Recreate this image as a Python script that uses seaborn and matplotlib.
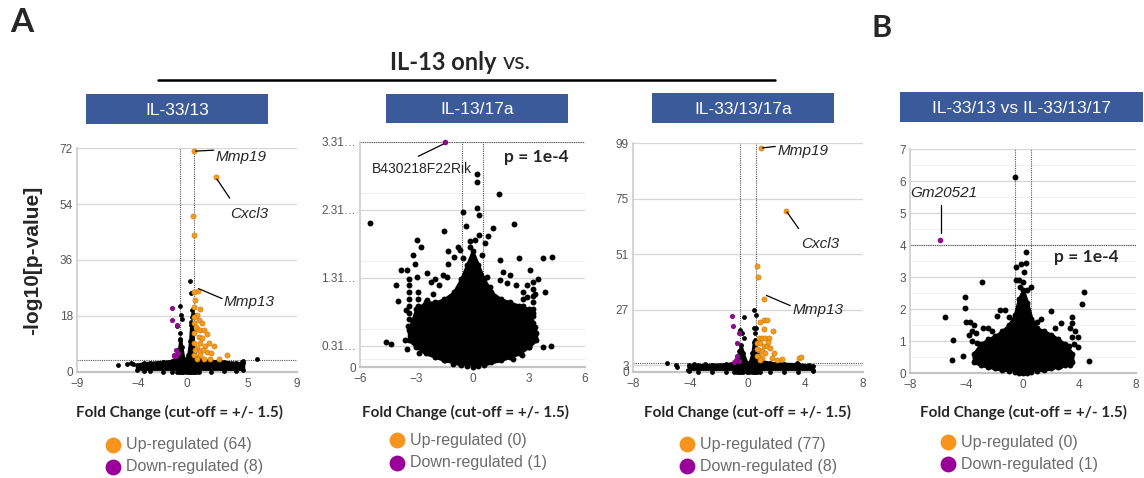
import numpy as np
import pandas as pd
import matplotlib
matplotlib.use("Agg")
import matplotlib.pyplot as plt
from matplotlib.patches import Rectangle
import seaborn as sns

sns.set_theme(style="white")
plt.rcParams["font.family"] = ["Liberation Sans", "DejaVu Sans"]

ORANGE = "#F59A1B"
PURPLE = "#8E0B8E"
BOX_BLUE = "#3B5A99"
CUT = 0.585  # log2(1.5)

# ---------------- IL-33/13 ----------------
p1_up_x = [0.55, 2.35, 0.46, 0.60, 0.87, 0.55, 0.68, 0.55, 1.09, 0.82, 0.55, 0.95, 0.55, 1.23,
           0.82, 1.09, 1.36, 1.64, 0.95, 1.23, 1.77, 1.09, 1.50, 2.24, 0.82, 1.09, 1.64, 0.55,
           1.09, 2.60, 3.27, 0.82, 1.42, 1.90, 0.60, 0.60, 0.68, 0.70, 1.30, 2.00]
p1_up_y = [71.0, 62.7, 50.3, 44.0, 26.1, 25.7, 23.2, 20.9, 20.3, 18.4, 17.7, 16.6, 15.75, 15.75,
           13.8, 13.6, 13.6, 12.3, 11.25, 10.8, 9.3, 9.3, 8.25, 8.25, 7.7, 6.6, 6.3, 5.6,
           5.6, 4.3, 5.6, 4.2, 4.2, 4.2, 12.5, 9.3, 7.2, 14.5, 7.0, 6.0]
p1_dn_x = [-1.23, -1.23, -0.82, -0.87, -1.04, -1.09, -0.87, -0.70]
p1_dn_y = [20.6, 16.6, 15.2, 7.0, 5.6, 5.0, 5.0, 6.2]
p1_bk_x = [0.27, 0.35, -0.55, -0.46, -0.41, -0.82, -0.60, -0.55, 0.41, 0.41, 0.33,
           -5.67, -4.90, -4.60, 5.73, 4.50, 4.60, -4.40, 0.45, 0.40]
p1_bk_y = [29.1, 25.4, 21.1, 18.4, 17.0, 14.7, 10.4, 12.5, 20.0, 17.7, 15.2,
           2.36, 2.7, 2.9, 4.3, 3.1, 3.5, 2.6, 18.5, 13.0]
p1_env_x = [-4.1, -3.5, -3.0, -2.0, -1.2, -0.8, -0.65, -0.55, -0.45, -0.3, -0.1, 0.1, 0.25,
            0.35, 0.45, 0.55, 0.7, 1.0, 2.0, 3.0, 4.0, 4.6]
p1_env_hi = [2.4, 2.9, 3.0, 3.3, 3.6, 4.5, 7.5, 10.5, 8.0, 4.5, 4.0, 5.5, 10.0,
             16.0, 13.0, 6.5, 4.5, 4.0, 3.6, 3.3, 3.0, 2.8]
p1_env_lo = [0.5, 0.3, 0.2, 0.1, 0.0, 0.0, 0.0, 0.0, 0.0, 0.0, 0.0, 0.0, 0.0,
             0.0, 0.0, 0.0, 0.0, 0.0, 0.1, 0.2, 0.3, 0.5]

# ---------------- IL-13/17a ----------------
p2_dn_x = [-1.45]
p2_dn_y = [3.31]
p2_bk_pts = [(-5.47, 2.12), (-4.6, 0.37), (-4.33, 0.34), (-4.07, 1.2), (-4.0, 0.97), (-3.6, 0.39),
             (-3.47, 0.26), (-2.84, 0.2), (-3.8, 1.43), (-3.5, 1.43), (-3.16, 1.65), (-2.98, 1.87),
             (-2.76, 1.76), (-3.07, 1.52), (-2.98, 1.33), (-3.55, 0.84), (-3.42, 0.61), (-2.45, 1.38),
             (-2.2, 1.25), (-1.52, 2.0), (-1.33, 1.70), (-1.29, 1.52), (-1.0, 1.62), (-0.79, 1.77),
             (-0.67, 1.72), (-0.49, 2.28), (-0.36, 2.07), (-0.13, 1.86), (-0.13, 1.77), (0.13, 1.87),
             (0.35, 1.94), (0.22, 2.84), (0.22, 2.72), (0.22, 2.34), (0.35, 2.24), (1.41, 2.54),
             (1.11, 2.04), (0.84, 1.92), (0.67, 1.83), (2.21, 2.10), (1.47, 1.57), (2.48, 1.6),
             (3.78, 1.61), (4.22, 1.62), (3.07, 1.43), (3.48, 1.29), (3.87, 1.11), (3.33, 1.08),
             (3.03, 0.30), (3.78, 0.30), (4.17, 0.31), (2.62, 0.17), (2.18, 0.12), (2.9, 1.2),
             (2.9, 1.03), (2.9, 0.79), (3.25, 0.79), (3.33, 0.59), (1.47, 1.28), (1.82, 1.23),
             (0.93, 1.18), (0.75, 1.33), (-1.38, 1.33), (-2.09, 1.08), (-2.45, 0.98), (-2.8, 0.79),
             (-2.89, 0.49), (-1.47, 0.1), (-1.02, 0.05), (1.82, 0.2), (-3.4, 1.3), (-3.4, 1.2),
             (-3.4, 1.1), (-3.4, 1.0), (-3.4, 0.9), (-3.4, 0.8), (-3.4, 0.7), (-2.9, 1.1),
             (-2.9, 1.0), (-2.9, 0.9), (-2.9, 0.8), (-2.9, 0.7), (-2.9, 0.6), (3.2, 1.25),
             (3.2, 1.15), (3.2, 1.05), (3.2, 0.95), (3.2, 0.85), (3.2, 0.75), (3.2, 0.65),
             (2.7, 1.1), (2.7, 1.0), (2.7, 0.9), (2.7, 0.8), (2.7, 0.7), (-2.0, 1.3), (-1.8, 1.2),
             (-1.6, 1.35), (2.0, 1.35), (2.3, 1.2), (1.6, 1.4), (-0.5, 1.6), (0.5, 1.65)]
p2_bk_x = [p[0] for p in p2_bk_pts]
p2_bk_y = [p[1] for p in p2_bk_pts]
p2_env_x = [-3.4, -3.0, -2.5, -2.0, -1.5, -1.0, -0.6, -0.3, 0.0, 0.3, 0.6, 1.0, 1.5, 2.0, 2.5, 3.0, 3.4]
p2_env_hi = [0.55, 0.85, 0.95, 0.95, 1.0, 1.1, 1.3, 1.5, 1.7, 1.5, 1.3, 1.1, 1.0, 0.95, 0.9, 0.85, 0.5]
p2_env_lo = [0.4, 0.3, 0.2, 0.15, 0.1, 0.07, 0.03, 0.01, 0.0, 0.01, 0.03, 0.07, 0.1, 0.15, 0.2, 0.3, 0.4]

# ---------------- IL-33/13/17a ----------------
p3_up_x = [0.90, 2.64, 0.63, 0.70, 1.09, 1.09, 1.32, 0.81, 1.09, 1.74, 0.74, 0.97, 1.21, 1.48,
           0.63, 0.86, 1.09, 1.32, 1.55, 0.74, 0.97, 1.21, 1.79, 1.67, 0.74, 0.97, 2.37, 3.52,
           3.69, 2.02, 0.65, 0.65, 0.80, 1.40]
p3_up_y = [96.8, 69.7, 46.0, 41.1, 31.7, 22.6, 22.6, 21.6, 18.7, 17.6, 14.7, 14.7, 14.7, 14.7,
           12.5, 12.5, 11.1, 11.1, 10.4, 9.65, 8.9, 8.2, 8.2, 6.05, 6.8, 6.05, 5.6, 6.05,
           6.3, 5.3, 10.0, 7.0, 5.0, 12.8]
p3_dn_x = [-1.11, -1.04, -0.65, -0.77, -0.77, -0.83, -0.65, -1.0]
p3_dn_y = [24.1, 20.0, 16.9, 12.5, 7.1, 5.3, 4.6, 4.2]
p3_bk_x = [-0.30, 0.44, 0.56, 0.39, 0.56, -0.42, -0.58, -0.30, 0.46,
           -5.63, -5.0, -4.95, -4.13, -4.2, -3.73, -2.97, 4.52, 4.22, 3.4]
p3_bk_y = [23.6, 26.7, 24.5, 19.0, 19.0, 16.9, 18.3, 14.7, 16.9,
           3.9, 2.9, 2.2, 2.9, 1.0, 3.6, 3.6, 1.0, 2.9, 3.9]
p3_env_x = [-4.1, -3.5, -2.5, -1.5, -1.0, -0.75, -0.6, -0.5, -0.35, -0.1, 0.1, 0.3, 0.4, 0.5,
            0.6, 0.8, 1.5, 2.5, 3.5, 4.5]
p3_env_hi = [2.6, 3.0, 3.2, 3.4, 4.0, 5.5, 9.0, 11.5, 8.0, 4.0, 4.0, 8.0, 13.0, 14.0,
             8.0, 5.0, 4.0, 3.6, 3.4, 2.6]
p3_env_lo = [0.4, 0.2, 0.1, 0.0, 0.0, 0.0, 0.0, 0.0, 0.0, 0.0, 0.0, 0.0, 0.0, 0.0,
             0.0, 0.0, 0.0, 0.1, 0.2, 0.4]

# ---------------- IL-33/13 vs IL-33/13/17 ----------------
p4_dn_x = [-5.87]
p4_dn_y = [4.16]
p4_bk_pts = [(-0.56, 6.12), (0.2, 3.77), (-0.51, 3.31), (-0.15, 3.40), (0.2, 3.43), (0.1, 3.17),
             (0.6, 2.70), (-0.51, 2.91), (-2.87, 2.84), (-4.08, 2.39), (-4.13, 2.02), (-5.52, 1.75),
             (-4.98, 1.04), (-5.0, 0.41), (-4.27, 0.52), (-4.03, 1.60), (-3.75, 1.58), (-3.47, 1.51),
             (-3.33, 1.25), (-3.24, 0.94), (-3.33, 0.62), (-2.81, 1.40), (-2.69, 0.83), (-3.04, 0.33),
             (4.29, 2.52), (4.19, 2.15), (4.69, 0.37), (3.89, 1.14), (3.49, 1.75), (3.47, 1.56),
             (3.35, 1.40), (3.47, 1.14), (3.23, 0.83), (3.0, 0.57), (2.63, 0.21), (3.35, 0.26),
             (2.0, 1.95), (2.68, 1.56), (-1.62, 1.98), (-1.26, 1.98), (-1.85, 1.77), (-2.45, 1.4),
             (-0.3, 2.9), (0.0, 2.85), (0.3, 2.6), (-0.2, 2.7), (1.3, 1.7), (1.0, 1.6), (-1.0, 1.75),
             (-2.2, 1.3), (2.3, 1.4), (-3.6, 1.3), (-3.6, 1.0), (-3.8, 1.2), (3.7, 1.3), (3.6, 0.9),
             (3.9, 0.8)]
p4_bk_x = [p[0] for p in p4_bk_pts]
p4_bk_y = [p[1] for p in p4_bk_pts]
p4_env_x = [-3.5, -3.0, -2.5, -2.0, -1.5, -1.0, -0.6, -0.3, 0.0, 0.3, 0.6, 1.0, 1.5, 2.0, 2.5, 3.0, 3.5]
p4_env_hi = [0.6, 0.9, 1.05, 1.15, 1.3, 1.5, 1.8, 2.3, 2.6, 2.2, 1.7, 1.4, 1.3, 1.2, 1.05, 0.9, 0.6]
p4_env_lo = [0.35, 0.25, 0.2, 0.15, 0.1, 0.05, 0.02, 0.0, 0.0, 0.0, 0.02, 0.05, 0.1, 0.15, 0.2, 0.25, 0.35]

panel_titles = ["IL-33/13", "IL-13/17a", "IL-33/13/17a", "IL-33/13 vs IL-33/13/17"]
up_counts = [64, 0, 77, 0]
down_counts = [8, 1, 8, 1]

W, H = 1144, 478
fig = plt.figure(figsize=(W / 100, H / 100), dpi=100)


def px_axes(left, top, right, bottom):
    return fig.add_axes([left / W, 1 - bottom / H, (right - left) / W, (bottom - top) / H])


def style(ax, xlim, xticks, ylim, yticks, yticklabels=None, minor=None):
    ax.set_xlim(*xlim)
    ax.set_ylim(*ylim)
    ax.set_xticks(xticks)
    ax.set_yticks(yticks)
    if yticklabels is not None:
        ax.set_yticklabels(yticklabels)
    if minor is not None:
        for m in minor:
            ax.axhline(m, color="#efefef", lw=0.8, zorder=0)
    ax.grid(axis="y", color="#d6d6d6", lw=0.9, zorder=0)
    ax.grid(axis="x", visible=False)
    for s in ["top", "right"]:
        ax.spines[s].set_visible(False)
    ax.spines["left"].set_color("#cfcfcf")
    ax.spines["bottom"].set_color("#c4c4c4")
    ax.spines["bottom"].set_linewidth(1.6)
    ax.tick_params(axis="both", length=0, labelsize=8.5, colors="#555555")
    ax.tick_params(axis="x", pad=4)
    ax.tick_params(axis="y", pad=3)
    ax.set_facecolor("white")


def finish(ax):
    ax.set_xlabel("")
    ax.set_ylabel("")


def draw_cloud(ax, ex, lo, hi, size):
    ax.fill_between(ex, lo, hi, color="black", lw=2.2, edgecolor="black", zorder=2)
    edge = pd.DataFrame({"x": ex + ex, "y": hi + lo})
    sns.scatterplot(data=edge, x="x", y="y", ax=ax, color="black", s=size, linewidth=0,
                    zorder=3, legend=False, clip_on=False)


def draw_points(ax, xs, ys, color, size, edge=None, z=4):
    df = pd.DataFrame({"x": xs, "y": ys})
    sns.scatterplot(data=df, x="x", y="y", ax=ax, color=color, s=size,
                    edgecolor=edge if edge else color, linewidth=0.4 if edge else 0,
                    zorder=z, legend=False, clip_on=False)


def cutoffs(ax, yline):
    for v in (-CUT, CUT):
        ax.axvline(v, color="#555555", ls=(0, (1, 1)), lw=0.8, zorder=1)
    ax.axhline(yline, color="#555555", ls=(0, (1, 1)), lw=0.8, zorder=1)


def gene(ax, text, tx, ty, x0, y0, x1, y1, italic=True, size=11):
    ax.plot([x0, x1], [y0, y1], color="black", lw=0.9, zorder=5, clip_on=False)
    ax.text(tx, ty, text, fontsize=size, style="italic" if italic else "normal",
            va="center", ha="left", zorder=6, clip_on=False,
            family=["Liberation Sans", "DejaVu Sans"])


# Panel 1
ax1 = px_axes(77, 148, 297, 372)
style(ax1, (-9, 9), [-9, -4, 0, 5, 9], (0, 72), [0, 18, 36, 54, 72])
cutoffs(ax1, 4)
draw_cloud(ax1, p1_env_x, p1_env_lo, p1_env_hi, 12)
draw_points(ax1, p1_bk_x, p1_bk_y, "black", 12)
draw_points(ax1, p1_dn_x, p1_dn_y, PURPLE, 14)
draw_points(ax1, p1_up_x, p1_up_y, ORANGE, 14, edge="#C87808")
gene(ax1, "Mmp19", 2.3, 69.1, 0.7, 71.0, 2.18, 71.3)
gene(ax1, "Cxcl3", 3.55, 50.8, 2.45, 62.0, 3.49, 55.9)
gene(ax1, "Mmp13", 3.0, 22.4, 0.95, 26.8, 2.86, 23.6)
finish(ax1)

# Panel 2
ax2 = px_axes(360, 142, 585, 367)
style(ax2, (-6, 6), [-6, -3, 0, 3, 6], (0, 3.31), [0, 0.31, 1.31, 2.31, 3.31],
      ["0", "0.31\u2026", "1.31\u2026", "2.31\u2026", "3.31\u2026"], minor=[0.12, 0.56, 1.56, 2.56])
cutoffs(ax2, 3.31)
draw_cloud(ax2, p2_env_x, p2_env_lo, p2_env_hi, 18)
draw_points(ax2, p2_bk_x, p2_bk_y, "black", 18)
draw_points(ax2, p2_dn_x, p2_dn_y, PURPLE, 16)
gene(ax2, "B430218F22Rik", -5.38, 2.92, -2.89, 3.10, -1.55, 3.28, italic=False, size=10)
ax2.text(1.68, 3.09, "p = 1e-4", fontsize=12.5, fontweight="bold", family=["Lato", "DejaVu Sans"],
         va="center", ha="left")
finish(ax2)

# Panel 3
ax3 = px_axes(633, 143, 863, 372)
style(ax3, (-8, 8), [-8, -4, 0, 4, 8], (0, 99), [0, 3, 27, 51, 75, 99])
cutoffs(ax3, 4)
draw_cloud(ax3, p3_env_x, p3_env_lo, p3_env_hi, 12)
draw_points(ax3, p3_bk_x, p3_bk_y, "black", 12)
draw_points(ax3, p3_dn_x, p3_dn_y, PURPLE, 14)
draw_points(ax3, p3_up_x, p3_up_y, ORANGE, 14, edge="#C87808")
gene(ax3, "Mmp19", 2.02, 95.4, 1.0, 96.9, 1.9, 97.5)
gene(ax3, "Cxcl3", 3.69, 55.3, 2.71, 69.2, 3.52, 62.0)
gene(ax3, "Mmp13", 3.1, 26.9, 1.28, 33.1, 2.94, 28.7)
finish(ax3)

# Panel 4
ax4 = px_axes(910, 149, 1136, 373)
style(ax4, (-8, 8), [-8, -4, 0, 4, 8], (0, 7), list(range(8)),
      minor=[0.5, 1.5, 2.5, 3.5, 4.5, 5.5, 6.5])
cutoffs(ax4, 4)
draw_cloud(ax4, p4_env_x, p4_env_lo, p4_env_hi, 18)
draw_points(ax4, p4_bk_x, p4_bk_y, "black", 18)
draw_points(ax4, p4_dn_x, p4_dn_y, PURPLE, 16)
gene(ax4, "Gm20521", -7.95, 5.64, -5.83, 5.25, -5.83, 4.39)
ax4.text(2.23, 3.64, "p = 1e-4", fontsize=12.5, fontweight="bold", family=["Lato", "DejaVu Sans"],
         va="center", ha="left")
finish(ax4)

# Figure-level annotations in pixel coordinates
ov = fig.add_axes([0, 0, 1, 1])
ov.set_xlim(0, W)
ov.set_ylim(H, 0)
ov.axis("off")
ov.patch.set_visible(False)

lato = ["Lato", "DejaVu Sans"]
ov.text(10, 22, "A", fontsize=24, fontweight="bold", family=lato, va="center", ha="left")
ov.text(872, 28, "B", fontsize=22, fontweight="bold", family=lato, va="center", ha="left")
ov.text(497, 62, "IL-13 only", fontsize=17, fontweight="bold", family=lato, va="center", ha="right")
ov.text(503, 62, "vs.", fontsize=17, family=lato, va="center", ha="left")
ov.plot([158, 775], [80, 80], color="black", lw=1.8)

boxes = [(86, 94, 268, 124), (386, 94, 568, 123), (652, 93, 834, 123), (900, 92, 1143, 122)]
for (l, t, r, b), title in zip(boxes, panel_titles):
    ov.add_patch(Rectangle((l, t), r - l, b - t, facecolor=BOX_BLUE, edgecolor="none"))
    ov.text((l + r) / 2, (t + b) / 2 + 1, title, fontsize=12.5, color="white", ha="center", va="center")

xlabel_pos = [(179, 412), (465, 412), (747, 412), (1024, 412)]
for (cx, cy) in xlabel_pos:
    ov.text(cx, cy, "Fold Change (cut-off = +/- 1.5)", fontsize=11, fontweight="bold",
            family=lato, ha="center", va="center")

ov.text(33, 260, "-log10[p-value]", fontsize=15, fontweight="bold", rotation=90,
        ha="center", va="center")

legend_pos = [(113, 445, 467), (397, 440, 463), (687, 444, 466), (948, 442, 464)]
for (lx, uy, dy), nu, nd in zip(legend_pos, up_counts, down_counts):
    ov.scatter([lx], [uy], s=130, color="#F7941D", linewidth=0)
    ov.scatter([lx], [dy], s=130, color="#990099", linewidth=0)
    ov.text(lx + 13, uy, f"Up-regulated ({nu})", fontsize=11.5, color="#6b6b6b", va="center", ha="left")
    ov.text(lx + 13, dy, f"Down-regulated ({nd})", fontsize=11.5, color="#6b6b6b", va="center", ha="left")

fig.savefig("out.png", dpi=100, facecolor="white")
